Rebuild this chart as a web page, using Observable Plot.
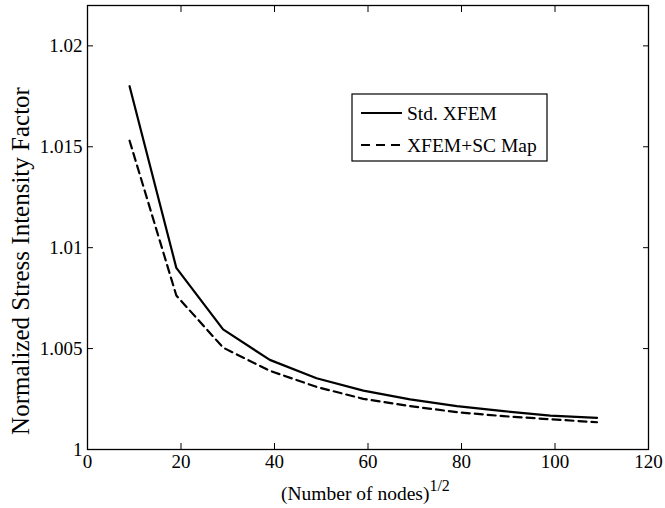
<!DOCTYPE html>
<html>
<head>
<meta charset="utf-8">
<script src="https://cdn.jsdelivr.net/npm/d3@7"></script>
<script src="https://cdn.jsdelivr.net/npm/@observablehq/plot@0.6"></script>
<style>
  html, body { margin: 0; padding: 0; background: #fff; }
  #chart { width: 665px; height: 508px; }
</style>
</head>
<body>
<div id="chart"></div>
<script>
const nodes = [9, 19, 29, 39, 49, 59, 69, 79, 89, 99, 109];
const stdXfem = [1.0180, 1.0090, 1.00595, 1.00444, 1.00353, 1.00292, 1.00248, 1.00215, 1.0019, 1.00168, 1.00157];
const scMap   = [1.0153, 1.00763, 1.00505, 1.0039, 1.0031, 1.00251, 1.00215, 1.00185, 1.00165, 1.0015, 1.00135];
const seriesNames = ["Std. XFEM", "XFEM+SC Map"];
const xTicks = [0, 20, 40, 60, 80, 100, 120];
const yTicks = [1, 1.005, 1.01, 1.015, 1.02];
const xLabel = "(Number of nodes)";
const xLabelSup = "1/2";
const yLabel = "Normalized Stress Intensity Factor";

const rowsStd = nodes.map((n, i) => ({x: n, y: stdXfem[i]}));
const rowsSc = nodes.map((n, i) => ({x: n, y: scMap[i]}));

const W = 665, H = 508;
const mL = 87, mR = 17, mT = 5, mB = 59;
const font = "Liberation Serif, Times New Roman, serif";
const fmtY = d => String(+d.toFixed(3));
const dash = "8,5";

const plot = Plot.plot({
  width: W, height: H,
  marginLeft: mL, marginRight: mR, marginTop: mT, marginBottom: mB,
  style: {fontFamily: font, fontSize: "19px", color: "#000", background: "#fff"},
  x: {domain: [0, 120], label: null},
  y: {domain: [1, 1.022], label: null},
  marks: [
    Plot.axisX(xTicks, {anchor: "bottom", tickSize: -6, tickFormat: () => "", label: null}),
    Plot.axisX(xTicks, {anchor: "top", tickSize: -6, tickFormat: () => "", label: null}),
    Plot.axisY(yTicks, {anchor: "left", tickSize: -6, tickFormat: () => "", label: null}),
    Plot.axisY(yTicks, {anchor: "right", tickSize: -6, tickFormat: () => "", label: null}),
    Plot.axisX(xTicks, {anchor: "bottom", tickSize: 0, tickPadding: 5, label: null, fontSize: 19}),
    Plot.axisY(yTicks, {anchor: "left", tickSize: 0, tickPadding: 5, tickFormat: fmtY, label: null, fontSize: 19}),
    Plot.line(rowsStd, {x: "x", y: "y", stroke: "#000", strokeWidth: 2.2}),
    Plot.line(rowsSc, {x: "x", y: "y", stroke: "#000", strokeWidth: 2.2, strokeDasharray: dash}),
    Plot.frame({stroke: "#000", strokeWidth: 1.3})
  ]
});

const svg = d3.select(plot);
// x label with superscript
const xl = svg.append("text")
  .attr("x", 281)
  .attr("y", 500)
  .attr("text-anchor", "start")
  .attr("font-family", font)
  .attr("font-size", 19.5)
  .attr("fill", "#000");
xl.append("tspan").text(xLabel);
xl.append("tspan").attr("dy", -9).attr("font-size", 16).text(xLabelSup);

// y label
svg.append("text")
  .attr("transform", "translate(29,261) rotate(-90)")
  .attr("text-anchor", "middle")
  .attr("font-family", font)
  .attr("font-size", 25)
  .attr("fill", "#000")
  .text(yLabel);

// legend
const lgX = 352, lgY = 94, lgW = 195, lgH = 67;
const lg = svg.append("g");
lg.append("rect").attr("x", lgX).attr("y", lgY).attr("width", lgW).attr("height", lgH)
  .attr("fill", "#fff").attr("stroke", "#000").attr("stroke-width", 1.2);
const styles = [null, "9,6"];
seriesNames.forEach((name, i) => {
  const cy = lgY + 19 + i * 32;
  lg.append("line").attr("x1", lgX + 9).attr("x2", lgX + 50).attr("y1", cy).attr("y2", cy)
    .attr("stroke", "#000").attr("stroke-width", 2.2)
    .attr("stroke-dasharray", styles[i]);
  lg.append("text").attr("x", lgX + 55).attr("y", cy).attr("dy", "0.35em")
    .attr("text-anchor", "start")
    .attr("font-family", font).attr("font-size", 19.5).attr("fill", "#000").text(name);
});

document.getElementById("chart").appendChild(plot);
</script>
</body>
</html>
